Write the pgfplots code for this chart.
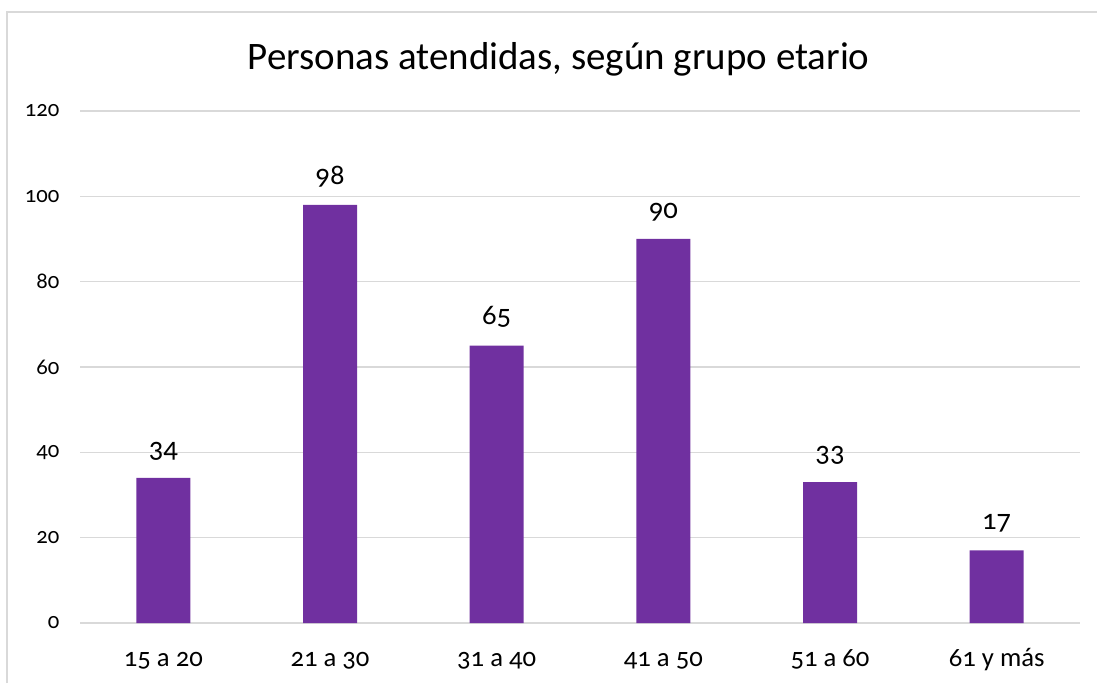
\documentclass[border=0pt]{standalone}
\usepackage{pgfplots}
\pgfplotsset{compat=1.18}
\usepackage{fontspec}
\setmainfont[Numbers=OldStyle]{Carlito}
\definecolor{barc}{HTML}{7030A0}
\definecolor{gridc}{HTML}{D9D9D9}
\begin{document}
\begin{tikzpicture}
\useasboundingbox (0,0) rectangle (822.75pt,512.25pt);
\draw[gridc, line width=1.5pt] (5.25pt,0) -- (5.25pt,503.25pt) -- (830pt,503.25pt);
\node[font=\fontsize{29.2}{34}\selectfont] at (419pt,468pt) {Personas atendidas, según grupo etario};
\begin{axis}[
  at={(60pt,45pt)}, anchor=south west,
  scale only axis, width=750pt, height=384pt,
  xmin=-0.5, xmax=5.5, ymin=0, ymax=120,
  ytick={0,20,...,120},
  xtick={0,...,5},
  xticklabels={15 a 20,21 a 30,31 a 40,41 a 50,51 a 60,61 y más},
  axis line style={draw=none},
  major tick length=0pt,
  ymajorgrids, grid style={gridc, line width=1.1pt},
  /pgf/number format/assume math mode=true,
  yticklabel style={font=\fontsize{17}{20}\selectfont, xshift=-12pt},
  xticklabel style={font=\fontsize{20}{24}\selectfont, text height=15pt, text depth=5pt, yshift=-14pt},
  nodes near coords,
  every node near coord/.append style={font=\fontsize{21.5}{25}\selectfont, text height=14pt, text depth=4pt, yshift=8pt},
  clip=false,
]
\addplot[ybar, bar width=40.5pt, fill=barc, draw=none] coordinates {(0,34) (1,98) (2,65) (3,90) (4,33) (5,17)};
\end{axis}
\end{tikzpicture}
\end{document}
